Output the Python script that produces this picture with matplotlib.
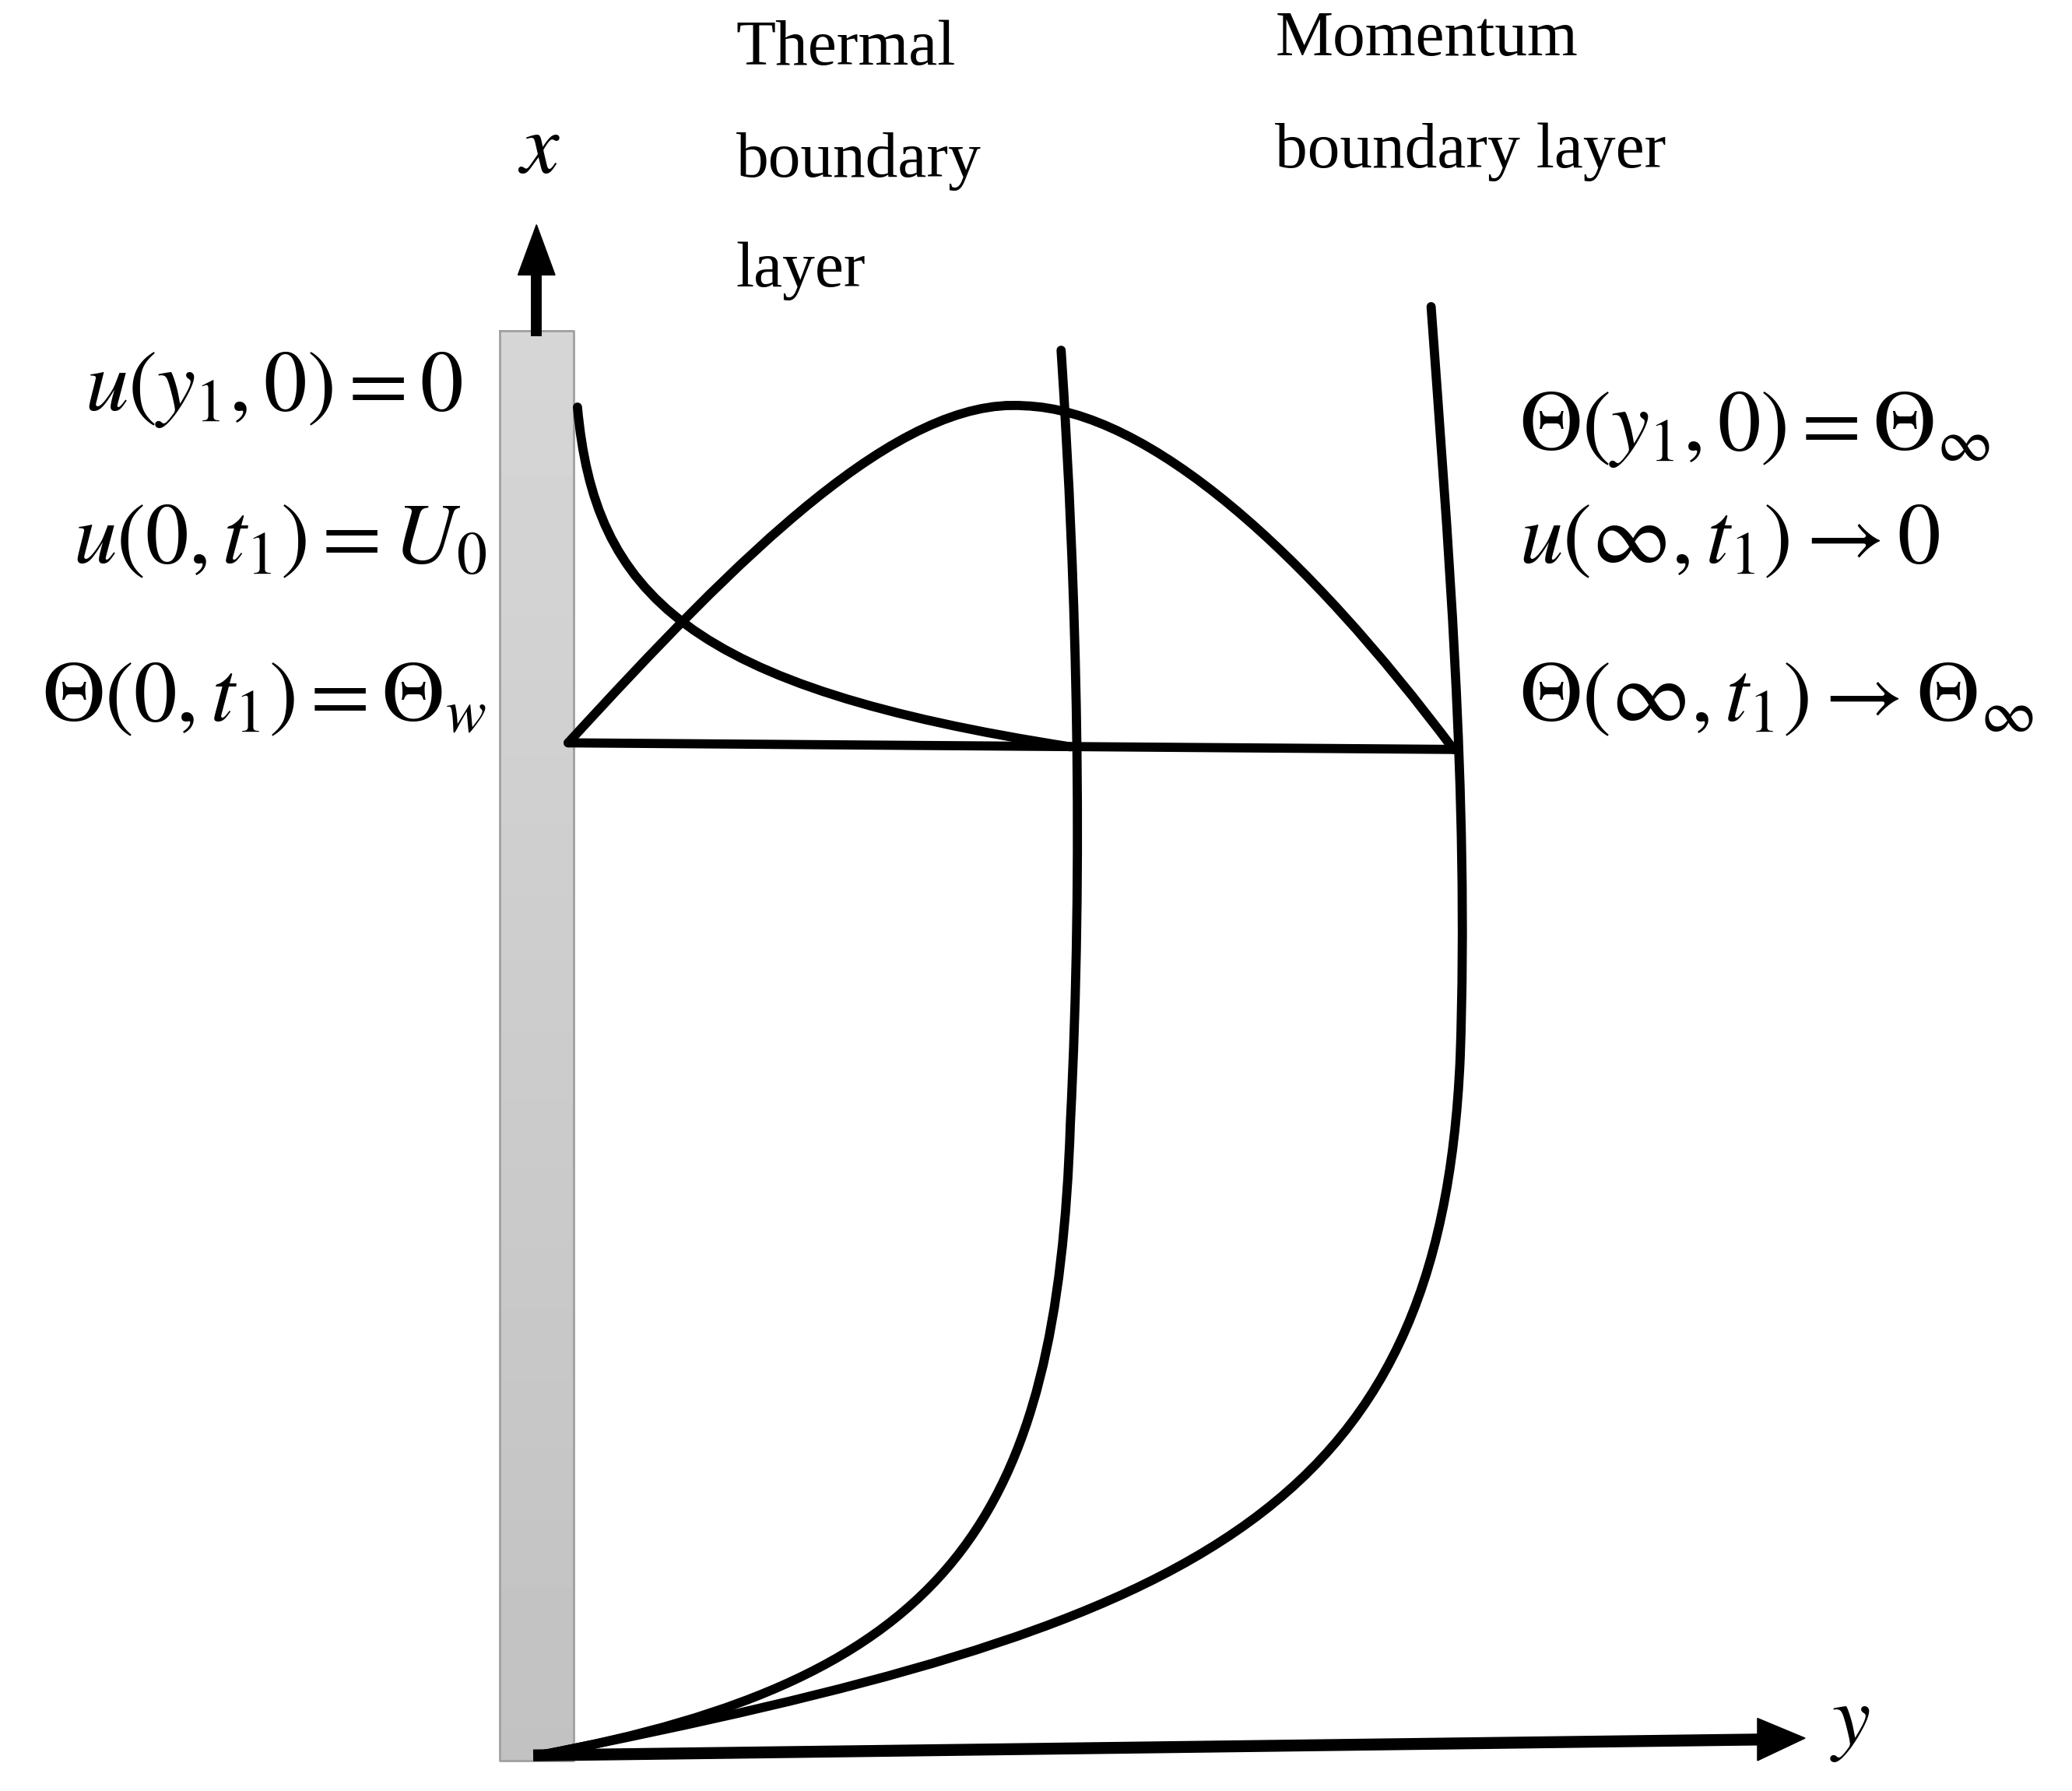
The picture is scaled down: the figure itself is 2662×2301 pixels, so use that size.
import matplotlib
matplotlib.use("Agg")
import matplotlib.pyplot as plt
from matplotlib.path import Path
from matplotlib.patches import PathPatch
import numpy as np

plt.rcParams['mathtext.fontset'] = 'stix'
plt.rcParams['font.family'] = ['Liberation Serif', 'DejaVu Serif']

W, H = 1568, 1355
# schematic curves (Bezier control points, image coordinates)
thermal_pts = [(408,1328),(720,1270),(800,1150),(810,850),(820,650),(815,450),(803,265)]
momentum_pts = [(408,1328),(900,1230),(1090,1150),(1105,800),(1112,600),(1095,400),(1083,232)]
velocity_pts = [(430,562),(560,420),(680,300),(775,307),(870,310),(990,420),(1100,567)]
temp_pts = [(437,308),(450,450),(520,520),(810,565)]
base_line = [(430,562),(1102,567)]

left_labels = [r'$u\left(y_1,0\right)=0$', r'$u\left(0,t_1\right)=U_0$', r'$\Theta\left(0,t_1\right)=\Theta_w$']
left_y = [295, 410, 530]
left_x = [350, 368, 368]
right_labels = [r'$\Theta\left(y_1,0\right)=\Theta_\infty$', r'$u\left(\infty,t_1\right)\rightarrow 0$',
                r'$\Theta\left(\infty,t_1\right)\rightarrow\Theta_\infty$']
right_y = [325, 410, 530]

fig = plt.figure(figsize=(26.62, 23.01), dpi=100)
ax = fig.add_axes([0, 0, 1, 1])
ax.set_xlim(0, W); ax.set_ylim(H, 0); ax.axis('off')

grad = np.linspace(0.84, 0.76, 256).reshape(-1, 1)
ax.imshow(grad, cmap='gray', vmin=0, vmax=1, extent=(378, 434, 1332, 250), aspect='auto', zorder=1)
ax.plot([378,434,434,378,378],[250,250,1332,1332,250], color='#a0a0a0', lw=2, zorder=2)

lw = 8.5
def bez(pts):
    codes = [Path.MOVETO] + [Path.CURVE4]*(len(pts)-1)
    ax.add_patch(PathPatch(Path(pts, codes), fill=False, lw=lw, color='black',
                           capstyle='round', joinstyle='round', zorder=3))
for p in (thermal_pts, momentum_pts, velocity_pts, temp_pts):
    bez(p)
ax.plot(*zip(*base_line), color='black', lw=lw, solid_capstyle='round', zorder=3)

ax.plot([406,406],[250,205], color='black', lw=10, zorder=3)
ax.add_patch(plt.Polygon([(392,208),(420,208),(406,170)], color='black', zorder=3))
ax.plot([408,1335],[1328,1316], color='black', lw=11, zorder=3)
ax.add_patch(plt.Polygon([(1330,1300),(1330,1332),(1366,1315)], color='black', zorder=3))
ax.text(408, 115, r'$x$', fontsize=80, ha='center', va='center')
ax.text(1400, 1305, r'$y$', fontsize=80, ha='center', va='center')

fs = 60
ax.text(557, 37, 'Thermal', fontsize=fs, va='center')
ax.text(557, 122, 'boundary', fontsize=fs, va='center')
ax.text(557, 205, 'layer', fontsize=fs, va='center')
ax.text(965, 30, 'Momentum', fontsize=fs, va='center')
ax.text(965, 115, 'boundary layer', fontsize=fs, va='center')

for s, x, y in zip(left_labels, left_x, left_y):
    ax.text(x, y, s, fontsize=80, ha='right', va='center')
for s, y in zip(right_labels, right_y):
    ax.text(1150, y, s, fontsize=80, ha='left', va='center')

fig.savefig('out.png', dpi=100, facecolor='white')
